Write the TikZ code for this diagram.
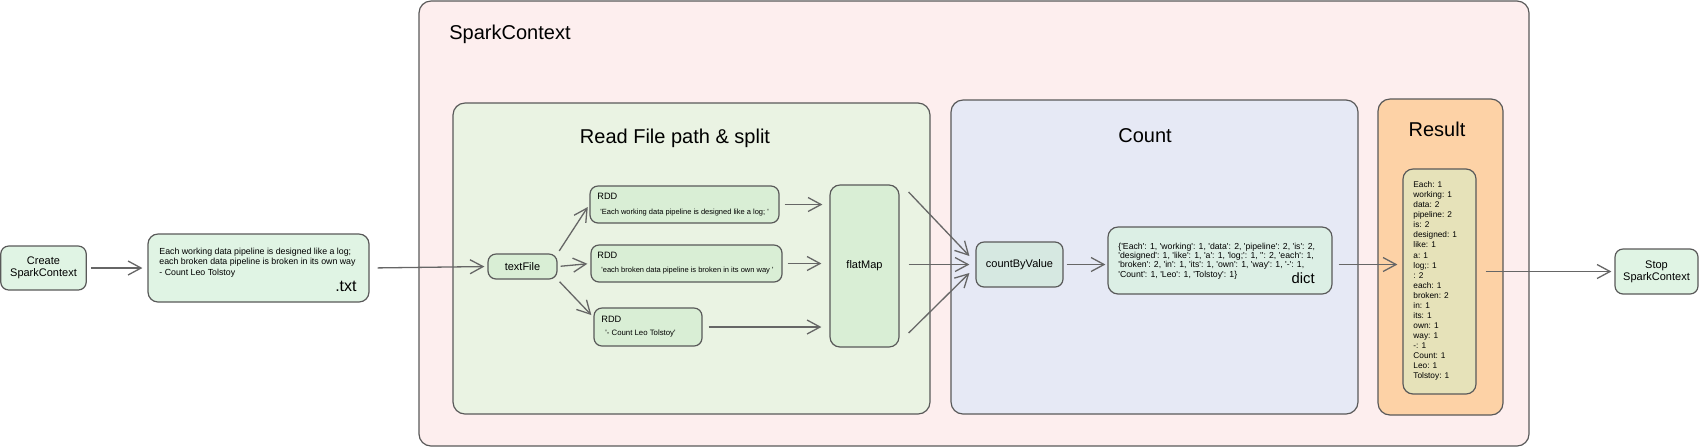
\documentclass[tikz,border=0pt]{standalone}
\usepackage{fontspec}
\newfontfamily\hand{Liberation Sans}
\usetikzlibrary{arrows.meta,calc}
\definecolor{bc}{HTML}{595959}
\definecolor{ac}{HTML}{666666}
\definecolor{sparkfill}{HTML}{FDEEEE}
\definecolor{readfill}{HTML}{EAF3E3}
\definecolor{countfill}{HTML}{E6E9F5}
\definecolor{resultfill}{HTML}{FDD2A6}
\definecolor{innerfill}{HTML}{E6E2B9}
\definecolor{nodefill}{HTML}{E0F4E4}
\definecolor{greennode}{HTML}{D9EED5}
\definecolor{cbvfill}{HTML}{D6E8E1}
\definecolor{dictfill}{HTML}{DCEFE5}
\newcommand\fsz[2]{\hand\fontsize{#1}{#2}\selectfont}
\tikzset{
  grp/.style={draw=bc, line width=0.6pt, rounded corners=6pt, inner sep=0pt},
  nd/.style={draw=bc, line width=0.6pt, rounded corners=4pt, inner sep=0pt, align=center, font=\fsz{5.5pt}{6pt}},
  arr/.style={draw=ac, line width=0.65pt, -{Straight Barb[length=6.5pt,width=7pt]}},
  ttl/.style={inner sep=0pt, font=\fsz{10pt}{12pt}},
  lbl/.style={inner sep=0pt, align=left},
}
\begin{document}
\begin{tikzpicture}[x=0.5pt,y=-0.5pt]
\useasboundingbox (0,0) rectangle (1700,447);

% groups
\node[grp, fill=sparkfill, minimum width=555pt, minimum height=222.5pt] (spark) at (974,223.5) {};
\node[ttl, anchor=base west] (sparkTitle) at (449,39) {SparkContext};

\node[grp, fill=readfill, minimum width=238.5pt, minimum height=155.5pt] (read) at (691.5,258.5) {};
\node[ttl, anchor=base] (readTitle) at (675,143) {Read File path \& split};

\node[grp, fill=countfill, minimum width=203.5pt, minimum height=157pt] (count) at (1154.5,257) {};
\node[ttl, anchor=base] (countTitle) at (1145,142) {Count};

\node[grp, fill=resultfill, minimum width=62.5pt, minimum height=158pt] (result) at (1440.5,257) {};
\node[ttl, anchor=base] (resultTitle) at (1437,136) {Result};

% nodes
\node[nd, fill=nodefill, minimum width=42.75pt, minimum height=22pt] (create) at (43.5,268) {Create\\SparkContext};

\node[nd, fill=nodefill, rounded corners=5pt, minimum width=110.5pt, minimum height=34pt] (txt) at (258.5,268) {};
\node[lbl, anchor=west, font=\fsz{4.4pt}{5.25pt}] (txtText) at (159,262.5) {Each working data pipeline is designed like a log;\\each broken data pipeline is broken in its own way\\- Count Leo Tolstoy};
\node[lbl, anchor=base east, font=\fsz{8pt}{9pt}] (txtExt) at (357,291) {.txt};

\node[nd, fill=greennode, minimum width=34.5pt, minimum height=12.5pt] (textFile) at (522.5,266.5) {textFile};

\node[nd, fill=greennode, minimum width=94.5pt, minimum height=18.5pt] (rdd1) at (684.5,204.5) {};
\node[lbl, anchor=base west, font=\fsz{4.6pt}{5pt}] (rdd1h) at (597,199) {RDD};
\node[lbl, anchor=base west, font=\fsz{3.75pt}{5pt}] (rdd1t) at (600,214) {'Each working data pipeline is designed like a log; '};

\node[nd, fill=greennode, minimum width=95.5pt, minimum height=18.5pt] (rdd2) at (686.5,263.5) {};
\node[lbl, anchor=base west, font=\fsz{4.6pt}{5pt}] (rdd2h) at (597,258) {RDD};
\node[lbl, anchor=base west, font=\fsz{3.75pt}{5pt}] (rdd2t) at (601,272) {'each broken data pipeline is broken in its own way '};

\node[nd, fill=greennode, minimum width=54pt, minimum height=19pt] (rdd3) at (648,327) {};
\node[lbl, anchor=base west, font=\fsz{4.6pt}{5pt}] (rdd3h) at (601,322) {RDD};
\node[lbl, anchor=base west, font=\fsz{3.9pt}{5pt}] (rdd3t) at (605,335) {'- Count Leo Tolstoy'};

\node[nd, fill=greennode, rounded corners=5pt, minimum width=34.5pt, minimum height=81pt] (flatMap) at (864.5,266) {flatMap};

\node[nd, fill=cbvfill, minimum width=43.5pt, minimum height=22.5pt] (cbv) at (1019.5,264.5) {countByValue};

\node[nd, fill=dictfill, rounded corners=5pt, minimum width=112pt, minimum height=33.5pt] (dict) at (1220,260.5) {};
\node[lbl, anchor=west, font=\fsz{4.35pt}{4.7pt}] (dictText) at (1118,261) {\{'Each': 1, 'working': 1, 'data': 2, 'pipeline': 2, 'is': 2,\\'designed': 1, 'like': 1, 'a': 1, 'log;': 1, '': 2, 'each': 1,\\'broken': 2, 'in': 1, 'its': 1, 'own': 1, 'way': 1, '-': 1,\\'Count': 1, 'Leo': 1, 'Tolstoy': 1\}};
\node[lbl, anchor=base east, font=\fsz{7.4pt}{8pt}] (dictLbl) at (1315,283) {dict};

\node[nd, fill=innerfill, rounded corners=5pt, minimum width=36.5pt, minimum height=112.5pt] (resInner) at (1439.5,281.5) {};
\node[lbl, anchor=west, font=\fsz{4.15pt}{5.025pt}] (resText) at (1413,281) {Each: 1\\working: 1\\data: 2\\pipeline: 2\\is: 2\\designed: 1\\like: 1\\a: 1\\log;: 1\\: 2\\each: 1\\broken: 2\\in: 1\\its: 1\\own: 1\\way: 1\\-: 1\\Count: 1\\Leo: 1\\Tolstoy: 1};

\node[nd, fill=nodefill, minimum width=41.5pt, minimum height=22.5pt] (stop) at (1656.5,271.5) {Stop\\SparkContext};

% connectors
\draw[arr, shorten <=2pt, shorten >=2.5pt] (create.east) -- (txt.west);
\draw[arr, shorten <=4pt, shorten >=1.5pt] (txt.east) -- (textFile.west);
\draw[arr, shorten <=1.5pt, shorten >=1.5pt] (textFile.north east) -- (rdd1.west);
\draw[arr, shorten <=1.5pt, shorten >=1.5pt] (textFile.east) -- (rdd2.west);
\draw[arr, shorten <=1.5pt, shorten >=1.5pt] (textFile.south east) -- ($(rdd3.west)!0.5!(rdd3.north west)$);
\draw[arr, shorten <=2.5pt, shorten >=3.5pt] (rdd1.east) -- (flatMap.west |- rdd1.east);
\draw[arr, shorten <=2.5pt, shorten >=4pt] (rdd2.east) -- (flatMap.west |- rdd2.east);
\draw[arr, shorten <=3pt, shorten >=4pt] (rdd3.east) -- (flatMap.west |- rdd3.east);
\draw[arr] ([shift={(9,-74)}]flatMap.east) -- ([shift={(-6,-8.5)}]cbv.west);
\draw[arr, shorten <=4.5pt, shorten >=3pt] (flatMap.east |- cbv.west) -- (cbv.west);
\draw[arr] ([shift={(9,67)}]flatMap.east) -- ([shift={(-6,8.5)}]cbv.west);
\draw[arr, shorten <=1.5pt, shorten >=1pt] (cbv.east) -- (cbv.east -| dict.west);
\draw[arr, shorten <=3pt, shorten >=2.5pt] (dict.east |- cbv.east) -- (resInner.west |- cbv.east);
\draw[arr, shorten <=4.5pt, shorten >=1.5pt] (resInner.east |- stop.west) -- (stop.west);
\end{tikzpicture}
\end{document}
